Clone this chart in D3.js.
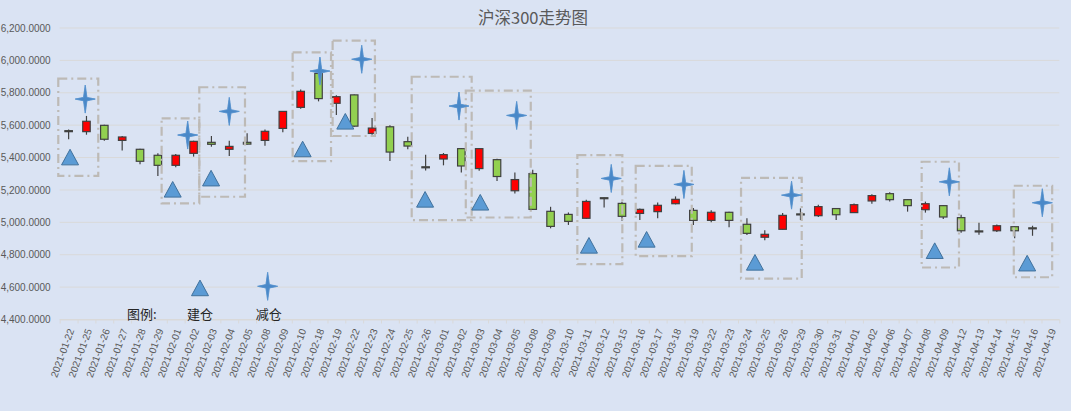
<!DOCTYPE html>
<html>
<head>
<meta charset="utf-8">
<script src="https://cdn.jsdelivr.net/npm/d3@7"></script>
<style>
  body { margin: 0; background: #dae3f3; }
  svg { display: block; }
</style>
</head>
<body>
<div id="chart-container"></div>
<script>
//Chart data

const dates = ["2021-01-22","2021-01-25","2021-01-26","2021-01-27","2021-01-28","2021-01-29",
  "2021-02-01","2021-02-02","2021-02-03","2021-02-04","2021-02-05","2021-02-08","2021-02-09",
  "2021-02-10","2021-02-18","2021-02-19","2021-02-22","2021-02-23","2021-02-24","2021-02-25",
  "2021-02-26","2021-03-01","2021-03-02","2021-03-03","2021-03-04","2021-03-05","2021-03-08",
  "2021-03-09","2021-03-10","2021-03-11","2021-03-12","2021-03-15","2021-03-16","2021-03-17",
  "2021-03-18","2021-03-19","2021-03-22","2021-03-23","2021-03-24","2021-03-25","2021-03-26",
  "2021-03-29","2021-03-30","2021-03-31","2021-04-01","2021-04-02","2021-04-06","2021-04-07",
  "2021-04-08","2021-04-09","2021-04-12","2021-04-13","2021-04-14","2021-04-15","2021-04-16",
  "2021-04-19"];

const openVals = [5566,5560,5599,5506,5451,5414,5352,5426,5494,5451,5494,5506,5580,5710,5920,5735,
  5787,5549,5590,5498,5343,5391,5455,5332,5387,5195,5301,5068,5049,5025,5152,5117,5055,5066,5115,
  5074,5012,5062,4988,4908,4957,5052,5041,5085,5060,5132,5177,5140,5078,5103,5029,4947,4948,4973,
  4966,null];
const highVals = [5574,5657,5602,5533,5455,5426,5422,5504,5533,5504,5550,5574,5687,5821,5924,5784,
  5790,5645,5600,5529,5418,5428,5459,5459,5393,5307,5324,5096,5061,5140,5154,5127,5086,5123,5160,
  5088,5074,5066,5025,4951,5057,5086,5109,5087,5117,5173,5186,5142,5128,5105,5047,4998,4986,4975,
  4979,null];
const lowVals = [5513,5541,5504,5443,5358,5286,5340,5406,5467,5410,5480,5473,5556,5702,5747,5663,
  5590,5541,5379,5451,5320,5352,5307,5318,5256,5178,5078,4963,4984,5020,5092,5010,5014,5025,5111,
  4984,5000,4969,4922,4889,4955,5014,5033,5014,5058,5115,5128,5066,5060,5021,4936,4924,4940,4901,
  4917,null];
const closeVals = [5563,5624,5513,5527,5377,5352,5414,5500,5482,5469,5483,5562,5685,5809,5764,5776,
  5594,5582,5434,5471,5341,5418,5348,5455,5283,5264,5080,4975,5006,5129,5150,5037,5080,5105,5142,
  5012,5062,5012,4932,4926,5043,5050,5097,5047,5109,5165,5140,5103,5115,5033,4948,4945,4979,4948,
  4964,null];

//建仓 / 减仓 markers: category position (0 = first date) and value
const buildPos = [0.08, 5.83, 7.98, 13.11, 15.5, 19.97, 23.06, 29.15, 32.38, 38.45, 48.52, 53.7];
const buildVal = [5403, 5204, 5273, 5453, 5624, 5142, 5124, 4858, 4895, 4753, 4825, 4748];
const reducePos = [0.93, 6.67, 9.0, 14.08, 16.42, 21.87, 25.1, 30.4, 34.47, 40.5, 49.34, 54.55];
const reduceVal = [5761, 5539, 5685, 5934, 6007, 5718, 5660, 5271, 5234, 5168, 5250, 5121];

//dashed frames round the trades: category edges and value range
const boxStart = [-0.08, 5.71, 7.82, 13.05, 15.29, 19.72, 22.75, 29.0, 32.27, 38.17, 48.29, 53.45];
const boxEnd   = [2.16, 7.82, 10.38, 15.2, 17.66, 23.08, 26.39, 31.52, 35.41, 41.57, 50.38, 55.6];
const boxTop   = [5887, 5642, 5834, 6050, 6122, 5899, 5813, 5415, 5349, 5275, 5374, 5226];
const boxBottom= [5287, 5117, 5158, 5378, 5533, 5014, 5030, 4742, 4791, 4653, 4721, 4661];

const yTickValues = [4400, 4600, 4800, 5000, 5200, 5400, 5600, 5800, 6000, 6200];

const legendBuild = { pos: 7.36, val: 4595 };
const legendReduce = { pos: 11.15, val: 4605 };

//Define chart dimensions

const margin = { top: 28, right: 11.7, bottom: 91.5, left: 59.7 };
const width = 1071 - margin.left - margin.right;
const height = 411 - margin.top - margin.bottom;

const xScale = d3.scaleBand().domain(dates).range([0, width]);
const xPos = d3.scaleLinear().domain([0, dates.length]).range([0, width]);
const yScale = d3.scaleLinear().domain([4400, 6200]).range([height, 0]);

const numFont = "'Liberation Sans', Arial, sans-serif";
const cjkFont = "'Noto Sans CJK SC', 'Noto Sans', sans-serif";

const root = d3.select("#chart-container")
  .append("svg")
  .attr("width", width + margin.left + margin.right)
  .attr("height", height + margin.top + margin.bottom);

const defs = root.append("defs");
const glow = defs.append("filter").attr("id", "soft")
  .attr("x", "-50%").attr("y", "-50%").attr("width", "200%").attr("height", "200%");
glow.append("feGaussianBlur").attr("in", "SourceGraphic").attr("stdDeviation", 0.7).attr("result", "b");
const merge = glow.append("feMerge");
merge.append("feMergeNode").attr("in", "b");
merge.append("feMergeNode").attr("in", "SourceGraphic");

const svg = root.append("g")
  .attr("transform", `translate(${margin.left},${margin.top})`);

//Title
root.append("text")
  .attr("x", 533)
  .attr("y", 17)
  .attr("text-anchor", "middle")
  .attr("dominant-baseline", "central")
  .style("font-family", cjkFont)
  .style("font-size", "16.5px")
  .style("fill", "#595959")
  .text("沪深300走势图");

//Horizontal gridlines
svg.selectAll(".yGrid")
  .data(yTickValues)
  .join("line")
  .attr("class", "yGrid")
  .attr("x1", 0)
  .attr("x2", width)
  .attr("y1", (d) => yScale(d))
  .attr("y2", (d) => yScale(d))
  .attr("stroke", "#d9d9d9")
  .attr("stroke-width", 1);

//y-axis labels
svg.append("g")
  .call(d3.axisLeft(yScale)
    .tickValues(yTickValues)
    .tickFormat(d3.format(",.4f"))
    .tickSize(0)
    .tickPadding(9))
  .call((g) => g.select(".domain").remove())
  .selectAll(".tick text")
    .style("font-family", numFont)
    .style("font-size", "10px")
    .style("fill", "#595959");

//x-axis line and tick marks at category edges
svg.append("g")
  .attr("transform", `translate(0, ${height})`)
  .call(d3.axisBottom(xPos)
    .tickValues(d3.range(0, dates.length + 1))
    .tickFormat("")
    .tickSize(4)
    .tickSizeOuter(0))
  .call((g) => g.selectAll("line, path").attr("stroke", "#d9d9d9"));

//x-axis date labels
svg.append("g")
  .attr("transform", `translate(0, ${height})`)
  .selectAll("text")
  .data(dates)
  .join("text")
  .attr("transform", (d) => `translate(${xScale(d) + xScale.bandwidth() / 2 + 2.5}, 9.5) rotate(-70)`)
  .attr("text-anchor", "end")
  .attr("dy", "0.35em")
  .style("font-family", numFont)
  .style("font-size", "10px")
  .style("fill", "#595959")
  .text((d) => d);

//Candles
const candles = dates.map((d, i) => ({
  date: d, open: openVals[i], high: highVals[i], low: lowVals[i], close: closeVals[i]
})).filter((d) => d.open != null);

const bodyW = xScale.bandwidth() * 0.42;
const cx = (d) => xScale(d.date) + xScale.bandwidth() / 2;

svg.selectAll(".wick")
  .data(candles)
  .join("line")
  .attr("class", "wick")
  .attr("x1", cx)
  .attr("x2", cx)
  .attr("y1", (d) => yScale(d.high))
  .attr("y2", (d) => yScale(d.low))
  .attr("stroke", "#404040")
  .attr("stroke-width", 1.2);

svg.selectAll(".body")
  .data(candles)
  .join("rect")
  .attr("class", "body")
  .attr("x", (d) => cx(d) - bodyW / 2)
  .attr("y", (d) => yScale(Math.max(d.open, d.close)))
  .attr("width", bodyW)
  .attr("height", (d) => Math.max(1, Math.abs(yScale(d.open) - yScale(d.close))))
  .attr("fill", (d) => d.close >= d.open ? "#ff0000" : "#92d050")
  .attr("stroke", "#404040")
  .attr("stroke-width", 1.2);

//Dashed frames
const boxes = boxStart.map((s, i) => ({ s, e: boxEnd[i], t: boxTop[i], b: boxBottom[i] }));

svg.selectAll(".frame")
  .data(boxes)
  .join("rect")
  .attr("class", "frame")
  .attr("x", (d) => xPos(d.s))
  .attr("y", (d) => yScale(d.t))
  .attr("width", (d) => xPos(d.e) - xPos(d.s))
  .attr("height", (d) => yScale(d.b) - yScale(d.t))
  .attr("fill", "none")
  .attr("stroke", "#bdbab6")
  .attr("stroke-width", 2.2)
  .attr("stroke-dasharray", "9 4 2 4");

//Marker shapes
const triPath = "M0,-7.8L8.5,7.8L-8.5,7.8Z";
const starPath = "M0,-14L1.7,-1.7L10,0L1.7,1.7L0,14L-1.7,1.7L-10,0L-1.7,-1.7Z";

const builds = buildPos.map((p, i) => ({ pos: p, val: buildVal[i] })).concat([legendBuild]);
const reduces = reducePos.map((p, i) => ({ pos: p, val: reduceVal[i] })).concat([legendReduce]);

svg.selectAll(".build")
  .data(builds)
  .join("path")
  .attr("class", "build")
  .attr("d", triPath)
  .attr("transform", (d) => `translate(${xPos(d.pos + 0.5)},${yScale(d.val)})`)
  .attr("fill", "#5b9bd5")
  .attr("stroke", "#41719c")
  .attr("stroke-width", 1);

svg.selectAll(".reduce")
  .data(reduces)
  .join("path")
  .attr("class", "reduce")
  .attr("d", starPath)
  .attr("transform", (d) => `translate(${xPos(d.pos + 0.5)},${yScale(d.val)})`)
  .attr("fill", "#4a88c8")
  .attr("stroke", "#5b95d0")
  .attr("stroke-width", 0.6)
  .attr("filter", "url(#soft)");

//Legend labels
const legendText = [
  { x: 141.7, label: "图例:" },
  { x: 200, label: "建仓" },
  { x: 268.8, label: "减仓" }
];

root.selectAll(".legend")
  .data(legendText)
  .join("text")
  .attr("class", "legend")
  .attr("x", (d) => d.x)
  .attr("y", 313.5)
  .attr("text-anchor", "middle")
  .attr("dominant-baseline", "central")
  .style("font-family", cjkFont)
  .style("font-size", "13px")
  .style("fill", "#262626")
  .text((d) => d.label);
</script>
</body>
</html>
